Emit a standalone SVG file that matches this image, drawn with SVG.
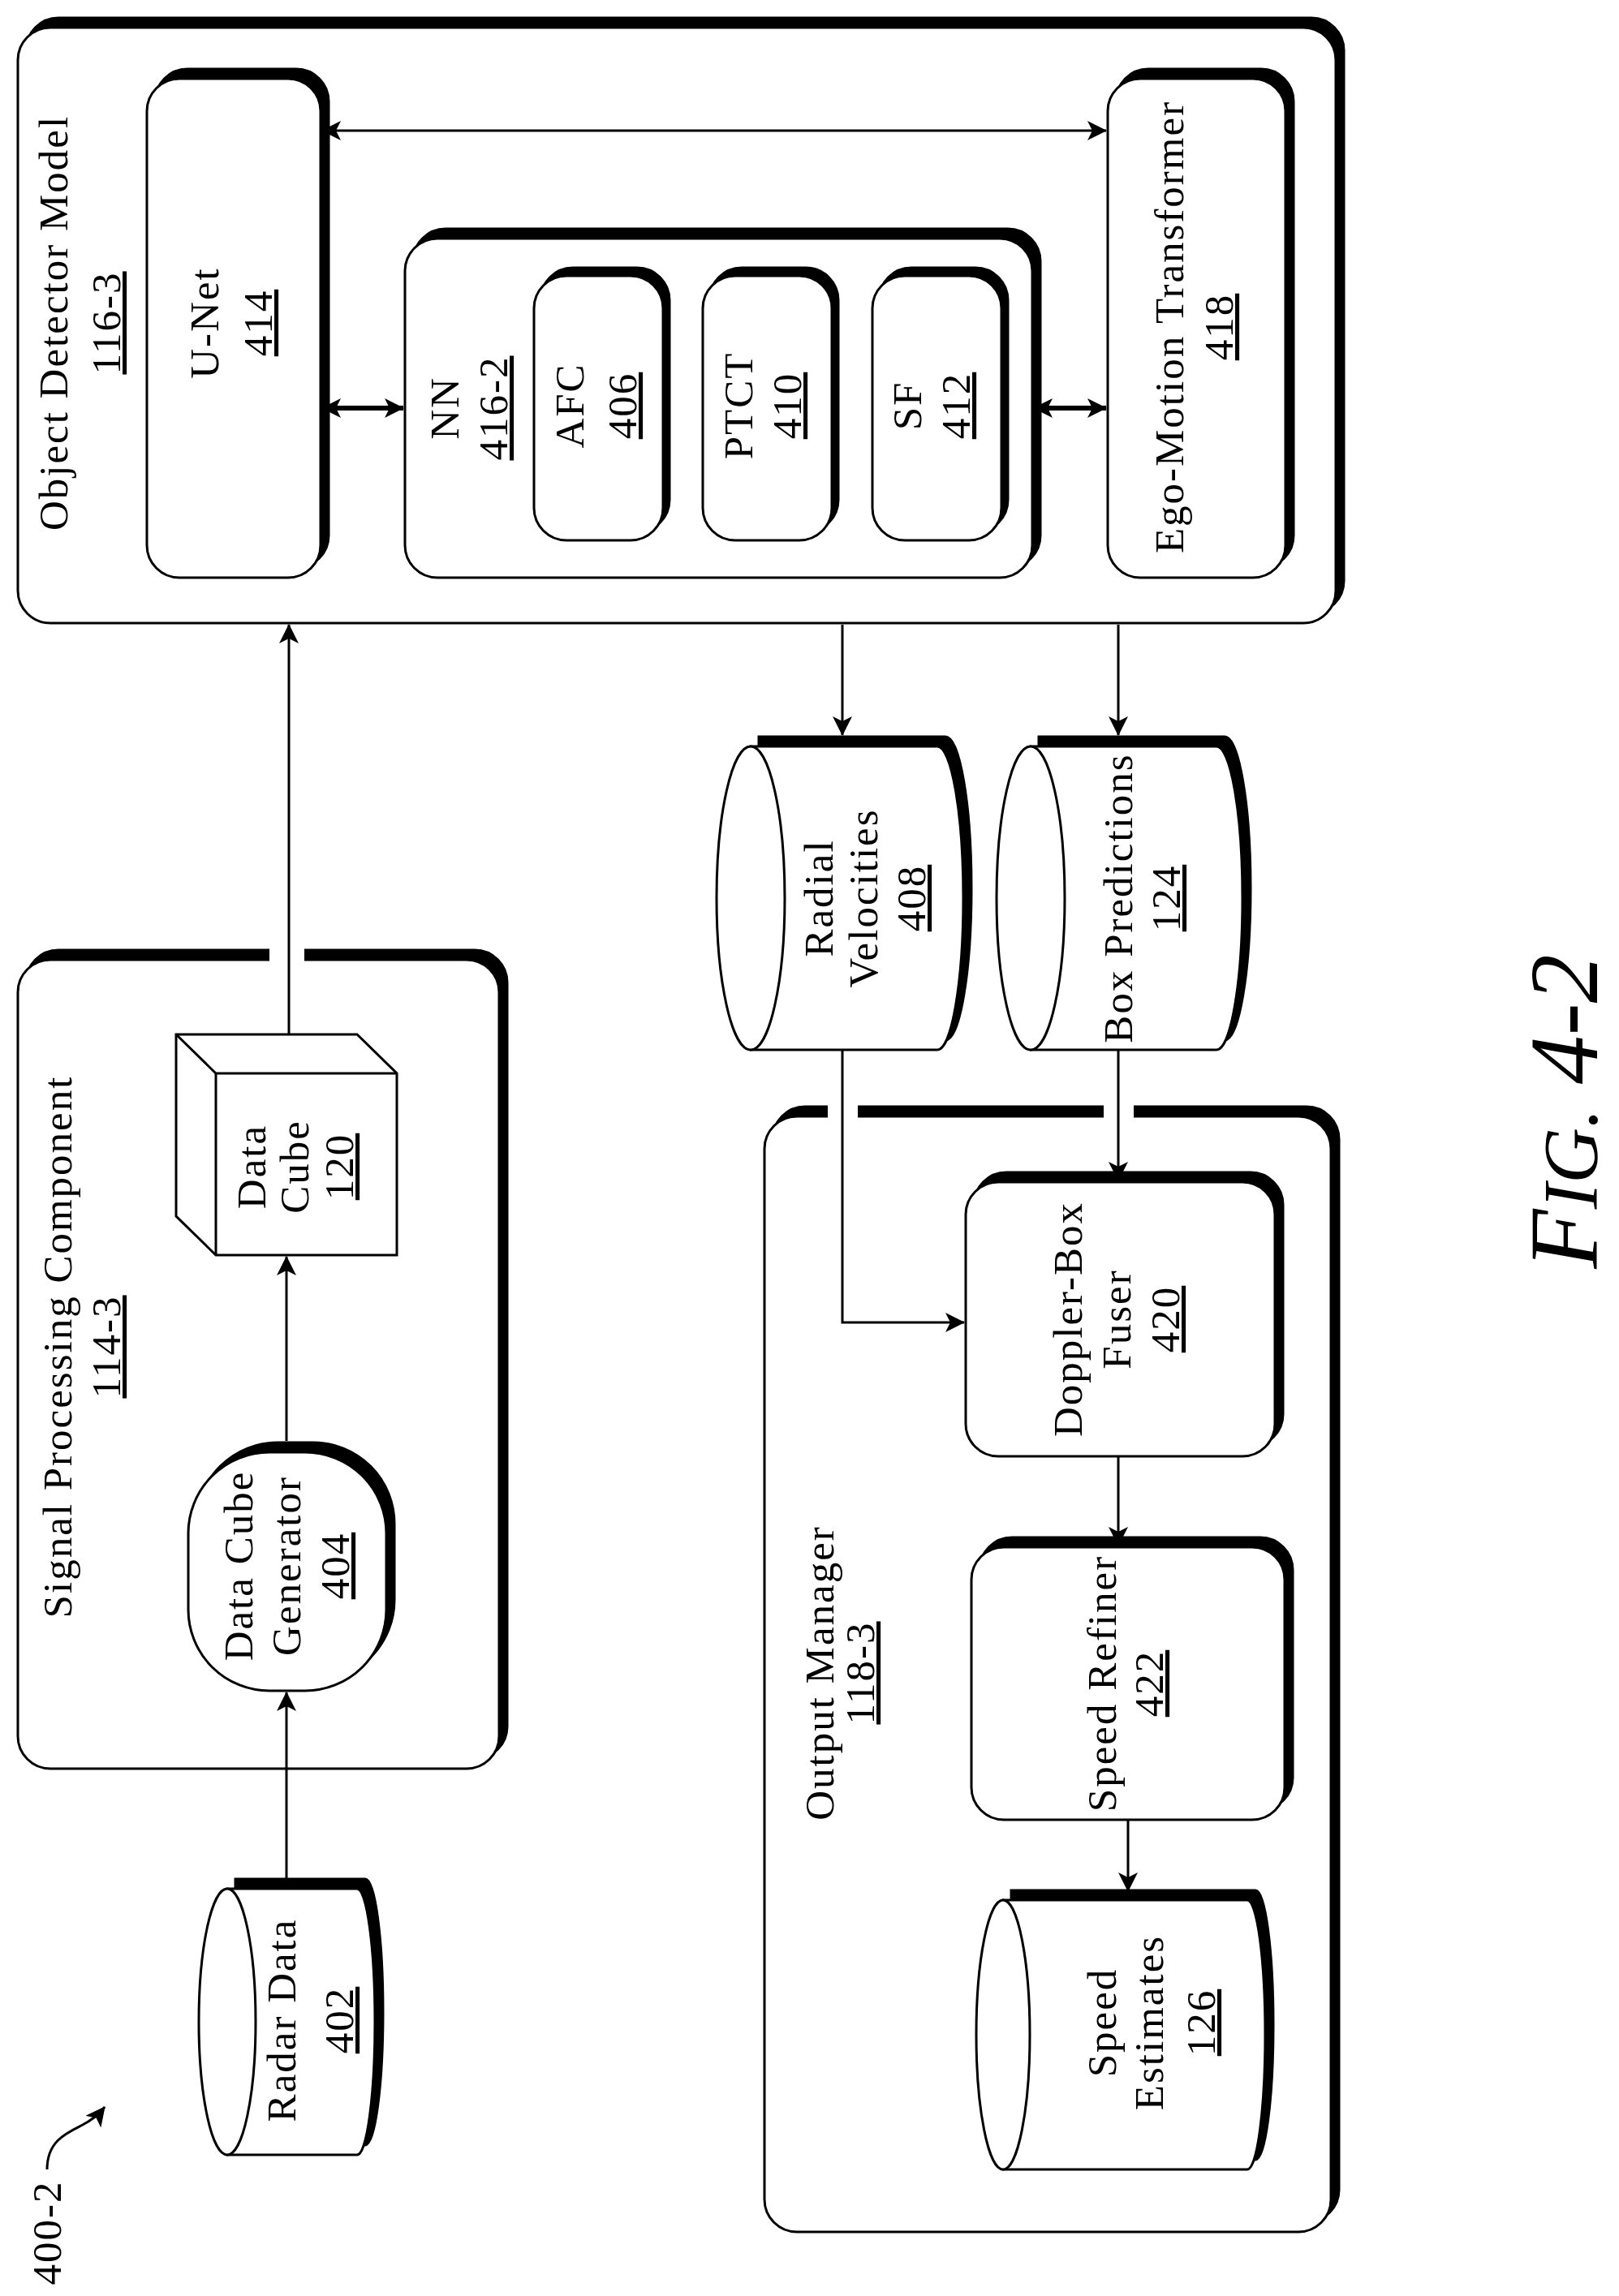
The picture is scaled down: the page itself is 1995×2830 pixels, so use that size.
<svg xmlns="http://www.w3.org/2000/svg" width="1995" height="2830" viewBox="0 0 1995 2830">
<style>
text{font-family:"Liberation Serif","Times New Roman",serif;font-size:51px;letter-spacing:2px;fill:#000;text-anchor:middle}
.u{text-decoration:underline}
.box{fill:#fff;stroke:#000;stroke-width:3}
.sh{fill:#000;stroke:#000;stroke-width:3}
.ln{fill:none;stroke:#000;stroke-width:3}
.thk{fill:none;stroke:#000;stroke-width:6}
</style>
<defs>
<marker id="ah" markerUnits="userSpaceOnUse" markerWidth="24" markerHeight="24" viewBox="0 0 24 24" refX="23" refY="12" orient="auto-start-reverse"><path d="M0,0 L24,12 L0,24 L6,12 Z" fill="#000"/></marker>
</defs>
<rect width="1995" height="2830" fill="#fff"/>

<g id="odm">
<rect class="sh" x="32" y="22" width="1624" height="734" rx="40"/>
<rect class="box" x="22" y="34" width="1624" height="734" rx="40"/>
<text transform="translate(83,398) rotate(-90)">Object Detector Model</text>
<text class="u" transform="translate(148,398) rotate(-90)">116-3</text>
</g>
<g id="unet">
<rect class="sh" x="191" y="85" width="214" height="615" rx="40"/>
<rect class="box" x="181" y="97" width="214" height="615" rx="40"/>
<text transform="translate(269,398) rotate(-90)">U-Net</text>
<text class="u" transform="translate(335,398) rotate(-90)">414</text>
</g>
<g id="ego">
<rect class="sh" x="1375" y="85" width="219" height="615" rx="40"/>
<rect class="box" x="1365" y="97" width="219" height="615" rx="40"/>
<text transform="translate(1458,403) rotate(-90)">Ego-Motion Transformer</text>
<text class="u" transform="translate(1519,403) rotate(-90)">418</text>
</g>
<g id="nn">
<rect class="sh" x="509" y="282" width="773" height="418" rx="40"/>
<rect class="box" x="499" y="294" width="773" height="418" rx="40"/>
<text transform="translate(565,503) rotate(-90)">NN</text>
<text class="u" transform="translate(625,503) rotate(-90)">416-2</text>
</g>
<g id="afc">
<rect class="sh" x="666" y="330" width="159" height="326" rx="40"/>
<rect class="box" x="658" y="340" width="159" height="326" rx="40"/>
<text transform="translate(719,500) rotate(-90)">AFC</text>
<text class="u" transform="translate(784,500) rotate(-90)">406</text>
</g>
<g id="ptct">
<rect class="sh" x="874" y="330" width="159" height="326" rx="40"/>
<rect class="box" x="866" y="340" width="159" height="326" rx="40"/>
<text transform="translate(927,500) rotate(-90)">PTCT</text>
<text class="u" transform="translate(987,500) rotate(-90)">410</text>
</g>
<g id="sf">
<rect class="sh" x="1083" y="330" width="159" height="326" rx="40"/>
<rect class="box" x="1075" y="340" width="159" height="326" rx="40"/>
<text transform="translate(1135,500) rotate(-90)">SF</text>
<text class="u" transform="translate(1195,500) rotate(-90)">412</text>
</g>

<g id="spc">
<rect class="sh" x="32" y="1171" width="593" height="997" rx="40"/>
<rect class="box" x="22" y="1183" width="593" height="997" rx="40"/>
<rect x="332" y="1160" width="43" height="30" fill="#fff"/>
<text transform="translate(88,1660) rotate(-90)">Signal Processing Component</text>
<text class="u" transform="translate(148,1660) rotate(-90)">114-3</text>
</g>
<g id="cube">
<polygon class="box" points="217,1275 440,1275 489,1323 489,1547 266,1547 217,1499"/>
<polyline class="ln" points="217,1275 266,1323 489,1323"/>
<line class="ln" x1="266" y1="1323" x2="266" y2="1547"/>
<text transform="translate(327,1438) rotate(-90)">Data</text>
<text transform="translate(380,1438) rotate(-90)">Cube</text>
<text class="u" transform="translate(435,1438) rotate(-90)">120</text>
</g>
<g id="gen">
<rect class="sh" x="242" y="1778" width="244" height="294" rx="100"/>
<rect class="box" x="232" y="1790" width="244" height="294" rx="100"/>
<text transform="translate(311,1930) rotate(-90)">Data Cube</text>
<text transform="translate(370,1930) rotate(-90)">Generator</text>
<text class="u" transform="translate(430,1930) rotate(-90)">404</text>
</g>
<g id="radar">
<path class="sh" d="M290,2316 L450,2316 A22,164 0 0 1 450,2644 L290,2644 Z"/>
<path class="box" d="M280,2328 L440,2328 A22,164 0 0 1 440,2656 L280,2656 Z"/>
<ellipse class="box" cx="280" cy="2492" rx="35" ry="164"/>
<text transform="translate(364,2490) rotate(-90)">Radar Data</text>
<text class="u" transform="translate(435,2490) rotate(-90)">402</text>
</g>
<g id="radial">
<path class="sh" d="M935,908 L1165,908 A32,187 0 0 1 1165,1282 L935,1282 Z"/>
<path class="box" d="M925,920 L1155,920 A32,187 0 0 1 1155,1294 L925,1294 Z"/>
<ellipse class="box" cx="925" cy="1107" rx="42" ry="187"/>
<text transform="translate(1026,1107) rotate(-90)">Radial</text>
<text transform="translate(1081,1107) rotate(-90)">Velocities</text>
<text class="u" transform="translate(1140,1107) rotate(-90)">408</text>
</g>
<g id="boxpred">
<path class="sh" d="M1280,908 L1509,908 A32,187 0 0 1 1509,1282 L1280,1282 Z"/>
<path class="box" d="M1270,920 L1499,920 A32,187 0 0 1 1499,1294 L1270,1294 Z"/>
<ellipse class="box" cx="1270" cy="1107" rx="42" ry="187"/>
<text transform="translate(1395,1107) rotate(-90)">Box Predictions</text>
<text class="u" transform="translate(1454,1107) rotate(-90)">124</text>
</g>

<g id="om">
<rect class="sh" x="952" y="1364" width="698" height="1375" rx="40"/>
<rect class="box" x="942" y="1376" width="698" height="1375" rx="40"/>
<rect x="1020" y="1355" width="37" height="30" fill="#fff"/>
<rect x="1360" y="1355" width="37" height="30" fill="#fff"/>
<text transform="translate(1027,2062) rotate(-90)">Output Manager</text>
<text class="u" transform="translate(1077,2062) rotate(-90)">118-3</text>
</g>
<g id="fuser">
<rect class="sh" x="1200" y="1445" width="381" height="338" rx="40"/>
<rect class="box" x="1190" y="1457" width="381" height="338" rx="40"/>
<text transform="translate(1333,1626) rotate(-90)">Doppler-Box</text>
<text transform="translate(1393,1626) rotate(-90)">Fuser</text>
<text class="u" transform="translate(1453,1626) rotate(-90)">420</text>
</g>
<g id="refiner">
<rect class="sh" x="1207" y="1895" width="386" height="336" rx="40"/>
<rect class="box" x="1197" y="1907" width="386" height="336" rx="40"/>
<text transform="translate(1375,2075) rotate(-90)">Speed Refiner</text>
<text class="u" transform="translate(1433,2075) rotate(-90)">422</text>
</g>
<g id="estimates">
<path class="sh" d="M1246,2330 L1547,2330 A22,166 0 0 1 1547,2662 L1246,2662 Z"/>
<path class="box" d="M1236,2342 L1537,2342 A22,166 0 0 1 1537,2674 L1236,2674 Z"/>
<ellipse class="box" cx="1236" cy="2508" rx="33" ry="166"/>
<text transform="translate(1375,2493) rotate(-90)">Speed</text>
<text transform="translate(1433,2493) rotate(-90)">Estimates</text>
<text class="u" transform="translate(1497,2493) rotate(-90)">126</text>
</g>

<g id="connectors">
<path class="ln" d="M353,2315 V2086" marker-end="url(#ah)"/>
<path class="ln" d="M353,1776 V1549" marker-end="url(#ah)"/>
<path class="ln" d="M356,1275 V770" marker-end="url(#ah)"/>
<path class="ln" d="M1038,770 V906" marker-end="url(#ah)"/>
<path class="ln" d="M1378,770 V906" marker-end="url(#ah)"/>
<path class="ln" d="M1038,1294 V1630 H1188" marker-end="url(#ah)"/>
<path class="ln" d="M1378,1294 V1455" marker-end="url(#ah)"/>
<path class="ln" d="M1378,1795 V1905" marker-end="url(#ah)"/>
<path class="ln" d="M1390,2243 V2331" marker-end="url(#ah)"/>
<path class="ln" d="M397,161 H1363" marker-start="url(#ah)" marker-end="url(#ah)"/>
<path class="thk" d="M397,503 H497" marker-start="url(#ah)" marker-end="url(#ah)"/>
<path class="thk" d="M1274,503 H1363" marker-start="url(#ah)" marker-end="url(#ah)"/>
<path class="ln" d="M58,2674 C58,2640 80,2630 100,2620 C112,2614 122,2606 129,2597" marker-end="url(#ah)"/>
</g>
<text transform="translate(75,2752) rotate(-90)">400-2</text>
<text transform="translate(1968,1370) rotate(-90)" style="font-style:italic;font-size:120px;letter-spacing:0">F<tspan style="font-size:95px">IG.</tspan> 4-2</text>
</svg>
